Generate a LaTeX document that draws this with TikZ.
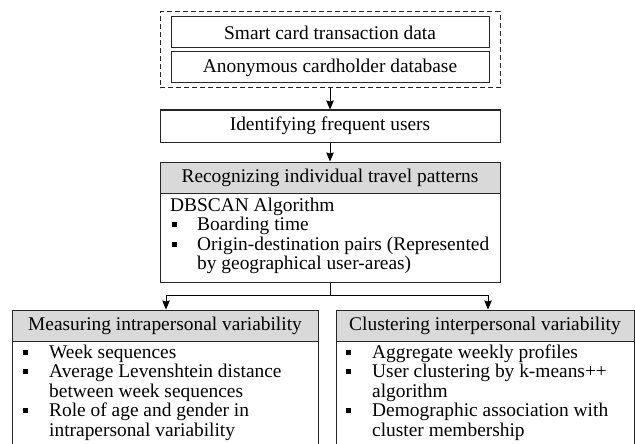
\documentclass[tikz,border=0pt]{standalone}
\usepackage{fontspec}
\setmainfont{Liberation Serif}
\usetikzlibrary{arrows.meta}
\begin{document}
\begin{tikzpicture}[x=1pt,y=-1pt,
  box/.style={draw=black!85,line width=1pt,inner sep=0pt,rectangle},
  head/.style={box,fill=black!15},
  txt/.style={inner sep=0pt,anchor=base west,font=\fontsize{19.4}{19.4}\selectfont},
  ctr/.style={font=\fontsize{19.4}{19.4}\selectfont},
  arr/.style={draw=black,line width=1pt,-{Stealth[length=9pt,width=7.5pt,inset=1pt]}},
  conn/.style={draw=black,line width=1pt}]
\useasboundingbox (0,0) rectangle (635,444);
\clip (0,0) rectangle (635,444);
% input group
\node[box,dash pattern=on 5pt off 3pt,minimum width=340pt,minimum height=76pt] (src) at (330,50) {};
\node[box,ctr,minimum width=318pt,minimum height=31pt] (b1) at (330,32.5) {Smart card transaction data};
\node[box,ctr,minimum width=318pt,minimum height=31pt] (b2) at (330,67.5) {Anonymous cardholder database};
% identifying
\node[box,ctr,minimum width=340pt,minimum height=32pt] (ident) at (330,126) {Identifying frequent users};
% recognizing
\node[head,ctr,minimum width=340pt,minimum height=31pt] (rhd) at (330,177.5) {Recognizing individual travel patterns};
\node[box,minimum width=340pt,minimum height=89pt] (rbd) at (330,237.5) {};
\node[txt] (r0) at (170,211) {DBSCAN Algorithm};
\node[txt] (r1) at (172,230.5) {\raisebox{3.5pt}{\rule{4.6pt}{4.6pt}}};
\node[txt] (r1t) at (197,230.5) {Boarding time};
\node[txt] (r2) at (172,250) {\raisebox{3.5pt}{\rule{4.6pt}{4.6pt}}};
\node[txt] (r2t) at (197,250) {Origin-destination pairs (Represented};
\node[txt] (r3t) at (197,269) {by geographical user-areas)};
% left
\node[head,ctr,minimum width=306pt,minimum height=31pt] (lhd) at (165,325.5) {Measuring intrapersonal variability};
\node[box,minimum width=306pt,minimum height=120pt] (lbd) at (165,401) {};
\node[txt] (l1) at (23,358) {\raisebox{3.5pt}{\rule{4.6pt}{4.6pt}}};
\node[txt] (l1t) at (49,358) {Week sequences};
\node[txt] (l2) at (23,377.5) {\raisebox{3.5pt}{\rule{4.6pt}{4.6pt}}};
\node[txt] (l2t) at (49,377.5) {Average Levenshtein distance};
\node[txt] (l3t) at (49,397) {between week sequences};
\node[txt] (l4) at (23,416.5) {\raisebox{3.5pt}{\rule{4.6pt}{4.6pt}}};
\node[txt] (l4t) at (49,416.5) {Role of age and gender in};
\node[txt] (l5t) at (49,436) {intrapersonal variability};
% right
\node[head,ctr,minimum width=298pt,minimum height=31pt] (chd) at (485,325.5) {Clustering interpersonal variability};
\node[box,minimum width=298pt,minimum height=120pt] (cbd) at (485,401) {};
\node[txt] (c1) at (346,358) {\raisebox{3.5pt}{\rule{4.6pt}{4.6pt}}};
\node[txt] (c1t) at (372,358) {Aggregate weekly profiles};
\node[txt] (c2) at (346,377.5) {\raisebox{3.5pt}{\rule{4.6pt}{4.6pt}}};
\node[txt] (c2t) at (372,377.5) {User clustering by k-means++};
\node[txt] (c3t) at (372,397) {algorithm};
\node[txt] (c4) at (346,416.5) {\raisebox{3.5pt}{\rule{4.6pt}{4.6pt}}};
\node[txt] (c4t) at (372,416.5) {Demographic association with};
\node[txt] (c5t) at (372,436) {cluster membership};
% connectors
\draw[arr] (src.south) -- (ident.north);
\draw[arr] (ident.south) -- (rhd.north);
\coordinate (jn) at (330,295);
\coordinate (jl) at (166,295);
\coordinate (jr) at (488,295);
\draw[conn] (rbd.south) -- (jn);
\draw[conn] (jl) -- (jr);
\draw[arr] (jl) -- (jl |- lhd.north);
\draw[arr] (jr) -- (jr |- chd.north);
\end{tikzpicture}
\end{document}
